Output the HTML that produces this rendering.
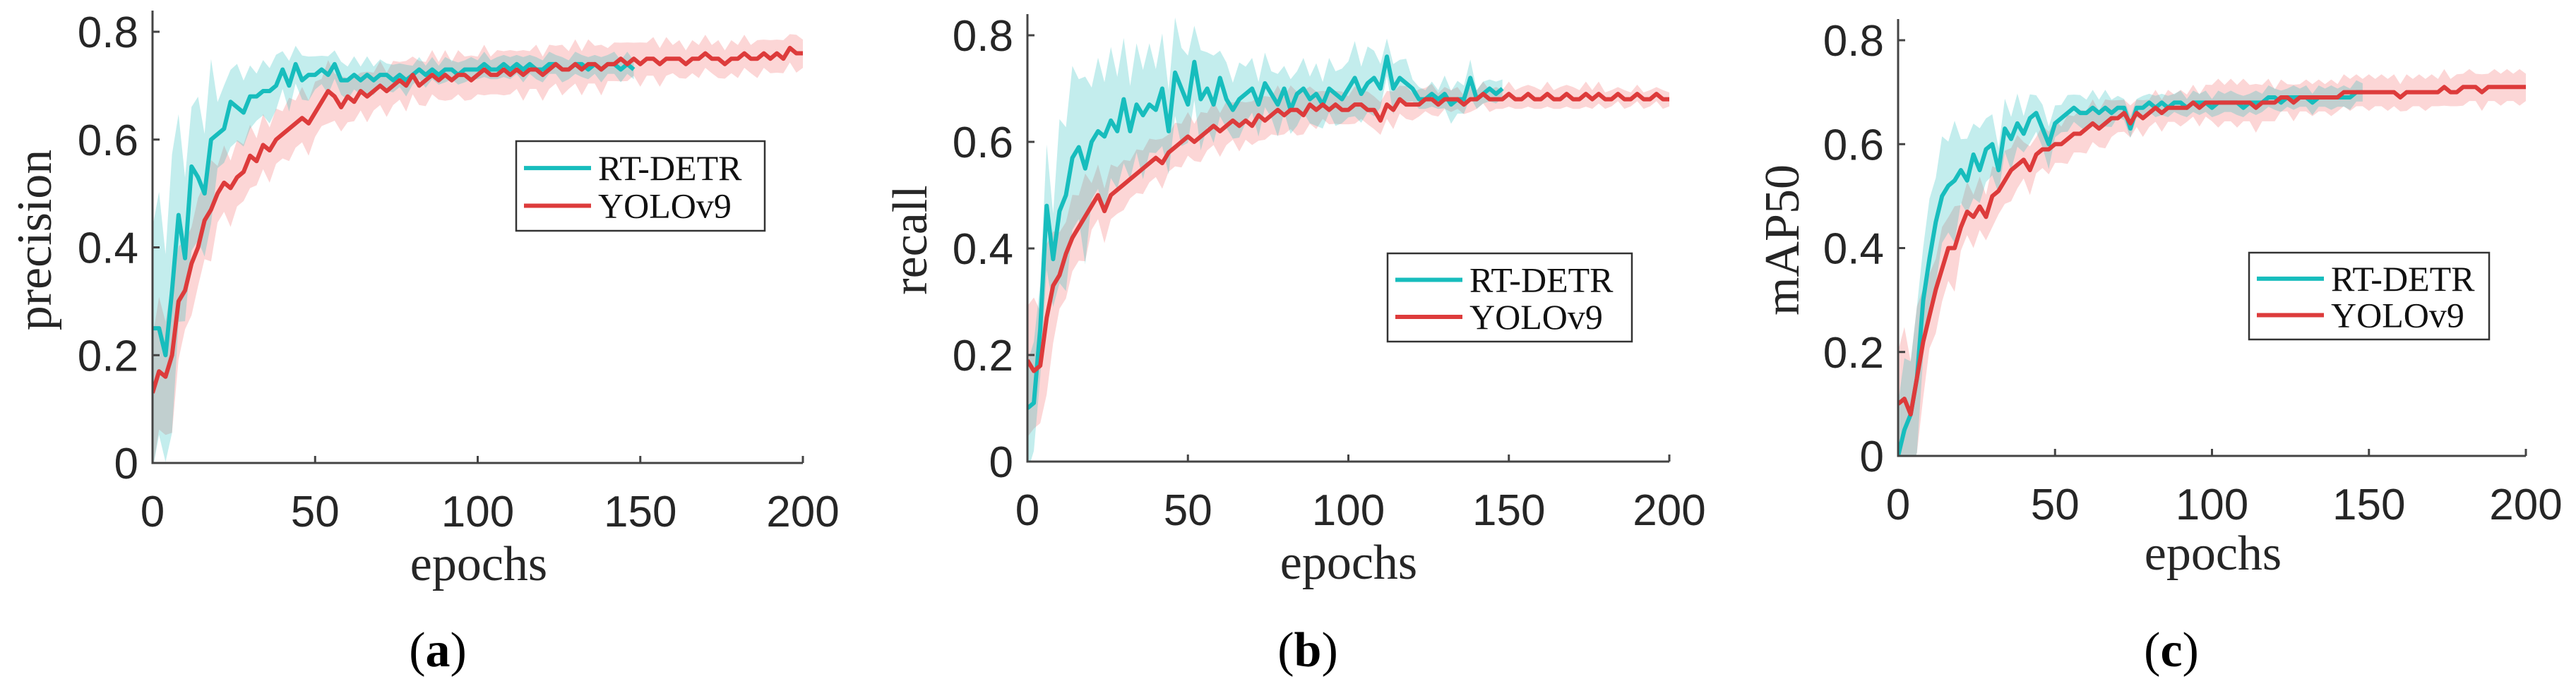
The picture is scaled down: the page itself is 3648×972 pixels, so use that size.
<!DOCTYPE html>
<html><head><meta charset="utf-8"><style>
html,body{margin:0;padding:0;background:#fff;width:3648px;height:972px;overflow:hidden}
svg{display:block}
</style></head><body>
<svg id="fig" width="3648" height="972" viewBox="0 0 3648 972" xmlns="http://www.w3.org/2000/svg"></svg>
<script>
const epochTicks=[0,50,100,150,200];
const yTicks=[0,0.2,0.4,0.6,0.8];
const yTickLabels=["0","0.2","0.4","0.6","0.8"];
const seriesNames=["RT-DETR","YOLOv9"];
const rtEpochs=148, yoloEpochs=200;

const precisionRT=[0.25,0.25,0.20,0.32,0.46,0.38,0.55,0.53,0.50,0.60,0.61,0.62,0.67,0.66,0.65,0.68,0.68,0.69,0.69,0.70,0.73,0.70,0.74,0.71,0.72,0.72,0.73,0.72,0.74,0.71,0.71,0.72,0.71,0.72,0.71,0.72,0.72,0.71,0.72,0.71,0.72,0.73,0.72,0.73,0.72,0.73,0.73,0.72,0.73,0.73,0.73,0.74,0.73,0.73,0.74,0.73,0.74,0.73,0.74,0.73,0.73,0.74,0.74,0.73,0.73,0.74,0.74,0.73,0.74,0.73,0.74,0.74,0.73,0.74,0.73];
const precisionYOLO=[0.13,0.17,0.16,0.20,0.30,0.32,0.37,0.40,0.45,0.47,0.50,0.52,0.51,0.53,0.54,0.57,0.56,0.59,0.58,0.60,0.61,0.62,0.63,0.64,0.63,0.65,0.67,0.69,0.68,0.66,0.68,0.67,0.69,0.68,0.69,0.70,0.69,0.70,0.71,0.70,0.72,0.70,0.71,0.72,0.71,0.72,0.71,0.72,0.72,0.71,0.72,0.73,0.72,0.72,0.73,0.72,0.73,0.72,0.73,0.73,0.72,0.73,0.74,0.73,0.73,0.74,0.73,0.74,0.74,0.73,0.74,0.74,0.75,0.74,0.75,0.74,0.75,0.75,0.74,0.75,0.75,0.75,0.74,0.75,0.75,0.76,0.75,0.75,0.74,0.75,0.75,0.76,0.75,0.75,0.76,0.75,0.76,0.75,0.77,0.76,0.76];
const precisionRTSpread=[0.22,0.13,0.07,0.05,0.04,0.03,0.03,0.025,0.02,0.02,0.02,0.02,0.02,0.02,0.02];
const precisionYOLOSpread=[0.12,0.08,0.06,0.05,0.05,0.05,0.04,0.04,0.04,0.04,0.04,0.04,0.04,0.04,0.035,0.035,0.03,0.03,0.03,0.03,0.03];

const recallRT=[0.10,0.11,0.25,0.48,0.38,0.47,0.50,0.57,0.59,0.55,0.60,0.62,0.61,0.64,0.62,0.68,0.62,0.67,0.65,0.67,0.66,0.70,0.62,0.73,0.70,0.67,0.75,0.68,0.70,0.67,0.72,0.68,0.66,0.68,0.69,0.70,0.67,0.71,0.69,0.67,0.70,0.66,0.69,0.70,0.68,0.69,0.67,0.70,0.69,0.68,0.70,0.72,0.69,0.71,0.72,0.70,0.76,0.70,0.72,0.71,0.70,0.68,0.68,0.69,0.68,0.69,0.67,0.68,0.68,0.72,0.68,0.69,0.70,0.69,0.70];
const recallYOLO=[0.19,0.17,0.18,0.27,0.33,0.35,0.39,0.42,0.44,0.46,0.48,0.50,0.47,0.50,0.51,0.52,0.53,0.54,0.55,0.56,0.57,0.56,0.58,0.59,0.60,0.61,0.60,0.61,0.62,0.63,0.62,0.63,0.64,0.63,0.64,0.63,0.65,0.64,0.65,0.66,0.65,0.66,0.66,0.65,0.67,0.66,0.67,0.66,0.67,0.66,0.66,0.67,0.67,0.66,0.66,0.64,0.67,0.66,0.68,0.67,0.67,0.67,0.68,0.68,0.67,0.68,0.68,0.68,0.67,0.68,0.68,0.69,0.68,0.68,0.68,0.69,0.68,0.68,0.69,0.68,0.68,0.69,0.68,0.68,0.69,0.68,0.68,0.69,0.68,0.69,0.68,0.68,0.69,0.68,0.68,0.69,0.68,0.68,0.69,0.68,0.68];
const recallRTSpread=[0.10,0.15,0.12,0.10,0.09,0.08,0.06,0.05,0.05,0.05,0.06,0.04,0.02,0.03,0.02];
const recallYOLOSpread=[0.12,0.07,0.05,0.04,0.04,0.04,0.04,0.04,0.04,0.03,0.03,0.03,0.025,0.02,0.02,0.02,0.02,0.02,0.015,0.015,0.015];

const mapRT=[0.0,0.05,0.08,0.15,0.30,0.38,0.45,0.50,0.52,0.53,0.55,0.53,0.58,0.55,0.59,0.60,0.55,0.63,0.61,0.64,0.62,0.65,0.66,0.63,0.60,0.64,0.65,0.66,0.67,0.66,0.66,0.67,0.66,0.67,0.66,0.67,0.67,0.63,0.67,0.67,0.68,0.67,0.68,0.67,0.68,0.68,0.67,0.68,0.68,0.68,0.67,0.68,0.68,0.68,0.68,0.67,0.68,0.68,0.68,0.69,0.69,0.68,0.69,0.69,0.69,0.69,0.68,0.69,0.69,0.69,0.69,0.69,0.69,0.70,0.70];
const mapYOLO=[0.10,0.11,0.08,0.15,0.22,0.27,0.32,0.36,0.40,0.40,0.44,0.47,0.46,0.48,0.46,0.50,0.51,0.53,0.55,0.56,0.57,0.55,0.58,0.59,0.59,0.60,0.60,0.61,0.62,0.62,0.63,0.64,0.63,0.64,0.65,0.65,0.66,0.64,0.66,0.65,0.66,0.67,0.66,0.67,0.67,0.67,0.67,0.68,0.67,0.68,0.68,0.68,0.68,0.68,0.68,0.68,0.68,0.67,0.68,0.68,0.68,0.69,0.69,0.68,0.69,0.69,0.69,0.69,0.69,0.69,0.69,0.70,0.70,0.70,0.70,0.70,0.70,0.70,0.70,0.70,0.69,0.70,0.70,0.70,0.70,0.70,0.70,0.71,0.70,0.70,0.71,0.71,0.71,0.70,0.71,0.71,0.71,0.71,0.71,0.71,0.71];
const mapRTSpread=[0.12,0.10,0.07,0.05,0.04,0.03,0.03,0.02,0.02,0.02,0.02,0.02,0.02,0.02,0.02];
const mapYOLOSpread=[0.12,0.07,0.05,0.05,0.04,0.04,0.04,0.03,0.03,0.03,0.04,0.04,0.03,0.03,0.03,0.03,0.03,0.03,0.03,0.03,0.03];

const NS="http://www.w3.org/2000/svg";
const svg=document.getElementById('fig');
function mk(tag,attrs,parent){const e=document.createElementNS(NS,tag);for(const k in attrs)e.setAttribute(k,attrs[k]);(parent||svg).appendChild(e);return e;}

const panels=[
 {key:'precision',label:'precision',cap:'a',x0:216,x1:1137,y0:656,y1:45,lx:50,ex:678,ey:822,cx:620,leg:[731,200,352,127],rt:precisionRT,yo:precisionYOLO,rs:precisionRTSpread,ys:precisionYOLOSpread},
 {key:'recall',label:'recall',cap:'b',x0:1455,x1:2364,y0:654,y1:50,lx:1290,ex:1910,ey:820,cx:1852,leg:[1965,359,346,125],rt:recallRT,yo:recallYOLO,rs:recallRTSpread,ys:recallYOLOSpread},
 {key:'map50',label:'mAP50',cap:'c',x0:2688,x1:3577,y0:646,y1:57,lx:2525,ex:3134,ey:807,cx:3075,leg:[3185,358,340,123],rt:mapRT,yo:mapYOLO,rs:mapRTSpread,ys:mapYOLOSpread}
];

panels.forEach((p,pi)=>{
 const g=mk('g',{});
 
 
 const sx=v=>p.x0+(v/200)*(p.x1-p.x0);
 const sy=v=>p.y0-(v/0.8)*(p.y0-p.y1);
 const clipId='clip'+pi;
 const defs=mk('defs',{},g);
 const cp=mk('clipPath',{id:clipId},defs);
 mk('rect',{x:p.x0,y:p.y1-30,width:p.x1-p.x0+4,height:p.y0-p.y1+30},cp);
 const plot=mk('g',{'clip-path':'url(#'+clipId+')'},g);
 
 
 function band(vals,spread,maxE,fill,name){
  const n=vals.length, step=maxE/(n-1);
  const up=[],lo=[];
  vals.forEach((v,i)=>{const e=i*step;const s=spread[Math.min(spread.length-1,Math.floor(e/10))];
   const jit=(i%2?1.15:0.85);up.push(sx(e)+','+sy(v+s*jit));lo.unshift(sx(e)+','+sy(v-s*(i%3?0.9:1.2)));});
  const b=mk('polygon',{points:up.concat(lo).join(' '),fill:fill,stroke:'none'},plot);
  
  
 }
 function line(vals,maxE,color,name){
  const n=vals.length, step=maxE/(n-1);
  const pts=vals.map((v,i)=>sx(i*step)+','+sy(v)).join(' ');
  const l=mk('polyline',{points:pts,fill:'none',stroke:color,'stroke-width':6,'stroke-linejoin':'round'},plot);
  
  
 }
 band(p.yo,p.ys,yoloEpochs,'rgba(245,130,130,0.33)','yolov9-band');
 band(p.rt,p.rs,rtEpochs,'rgba(40,190,190,0.28)','rt-detr-band');
 line(p.rt,rtEpochs,'#17BDBD','rt-detr-line');
 line(p.yo,yoloEpochs,'#DD3B3B','yolov9-line');
 const ax=mk('path',{d:`M${p.x0},${p.y1-30}V${p.y0}H${p.x1}`,fill:'none',stroke:'#444',"stroke-width":3},g);
 
 
 yTicks.forEach((t,i)=>{
  mk('line',{x1:p.x0,x2:p.x0+10,y1:sy(t),y2:sy(t),stroke:'#444','stroke-width':3},g);
  const tx=mk('text',{x:p.x0-20,y:sy(t)+22,'text-anchor':'end','font-family':'Liberation Sans, sans-serif','font-size':62,fill:'#262626'},g);
  tx.textContent=yTickLabels[i];
  
  
 });
 epochTicks.forEach(t=>{
  mk('line',{x1:sx(t),x2:sx(t),y1:p.y0,y2:p.y0-10,stroke:'#444','stroke-width':3},g);
  const tx=mk('text',{x:sx(t),y:p.y0+90,'text-anchor':'middle','font-family':'Liberation Sans, sans-serif','font-size':62,fill:'#262626'},g);
  tx.textContent=String(t);
  
  
 });
 const yl=mk('text',{x:0,y:0,transform:`translate(${p.lx+22},340) rotate(-90)`,'text-anchor':'middle','font-family':'Liberation Serif, serif','font-size':70,fill:'#262626'},g);
 yl.textContent=p.label;
 
 
 const xl=mk('text',{x:p.ex,y:p.ey,'text-anchor':'middle','font-family':'Liberation Serif, serif','font-size':70,fill:'#262626'},g);
 xl.textContent='epochs';
 
 
 const cap=mk('text',{x:p.cx,y:944,'text-anchor':'middle','font-family':'Liberation Serif, serif','font-size':70,fill:'#000'},g);
 cap.innerHTML='(<tspan font-weight="bold">'+p.cap+'</tspan>)';
 
 
 const [lx,ly,lw,lh]=p.leg;
 const lg=mk('g',{},g);
 
 
 mk('rect',{x:lx,y:ly,width:lw,height:lh,fill:'#fff',stroke:'#333','stroke-width':2.5},lg);
 [['#17BDBD',seriesNames[0]],['#DD3B3B',seriesNames[1]]].forEach((e,i)=>{
  const yy=ly+lh*(i?0.72:0.3);
  const en=mk('g',{},lg);
  
  
  mk('line',{x1:lx+11,x2:lx+106,y1:yy,y2:yy,stroke:e[0],'stroke-width':6},en);
  const t=mk('text',{x:lx+116,y:yy+17,'font-family':'Liberation Serif, serif','font-size':50,fill:'#111'},en);
  t.textContent=e[1];
 });
});
</script>
</body></html>
